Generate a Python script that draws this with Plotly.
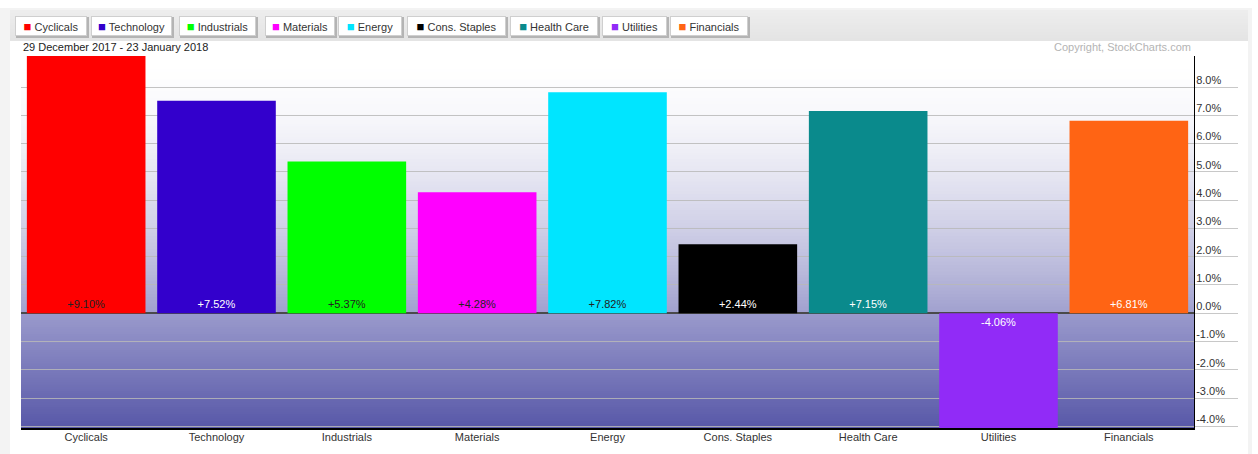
import plotly.graph_objects as go

# ---- data ----
categories = ["Cyclicals", "Technology", "Industrials", "Materials", "Energy",
              "Cons. Staples", "Health Care", "Utilities", "Financials"]
values = [9.10, 7.52, 5.37, 4.28, 7.82, 2.44, 7.15, -4.06, 6.81]
bar_colors = ["#ff0000", "#3300cc", "#00ff00", "#ff00ff", "#00e5ff",
              "#000000", "#0a8a8c", "#912bf7", "#ff6414"]
label_colors = ["#222222", "#ffffff", "#222222", "#222222", "#222222",
                "#ffffff", "#ffffff", "#ffffff", "#ffffff"]
y_ticks = [-4, -3, -2, -1, 0, 1, 2, 3, 4, 5, 6, 7, 8]
y_tick_text = [f"{v:.1f}%" for v in y_ticks]
date_text = "29 December 2017 - 23 January 2018"
copyright_text = "Copyright, StockCharts.com"

# ---- layout geometry (pixels) ----
FW, FH = 1258, 454
L, R, T, B = 21, 1194, 56, 428
W, H = R - L, B - T
FONT = "Liberation Sans, Arial, sans-serif"


def px_x(px):
    return (px - L) / W


def px_y(py):
    return (B - py) / H


ymin, ymax = min(values), max(values)

fig = go.Figure()
fig.add_trace(go.Bar(
    x=categories, y=values,
    marker=dict(color=bar_colors, line=dict(width=0)),
    text=[f"{v:+.2f}%" for v in values],
    textposition="inside", insidetextanchor="start",
    textfont=dict(color=label_colors, size=11, family=FONT),
    textangle=0, cliponaxis=False, hoverinfo="skip",
))

shapes = []
# outer frame
shapes.append(dict(type="rect", xref="paper", yref="paper", layer="below",
                   x0=px_x(0), x1=px_x(1252), y0=px_y(FH), y1=px_y(8),
                   fillcolor="#f3f3f3", line=dict(width=0)))
shapes.append(dict(type="rect", xref="paper", yref="paper", layer="below",
                   x0=px_x(10), x1=px_x(1248), y0=px_y(FH), y1=px_y(10),
                   fillcolor="#ffffff", line=dict(width=0)))
# top band gradient (overlapping bands, no seams)
nb = 10
for i in range(nb):
    y0p = 10 + (41 - 10) * i / nb
    g = int(round(237 - 9 * i / (nb - 1)))
    shapes.append(dict(type="rect", xref="paper", yref="paper", layer="below",
                       x0=px_x(10), x1=px_x(1248), y0=px_y(41), y1=px_y(y0p),
                       fillcolor=f"rgb({g},{g},{g})", line=dict(width=0)))

# plot background gradients: overlapping bands, each reaching the zero line
npos = 80
top_c = (255, 255, 255)
zero_c = (160, 160, 206)
for i in range(npos):
    a = ymax * (1 - i / npos)
    t = (i + 0.5) / npos
    f = t ** 1.7
    c = [int(round(top_c[k] + (zero_c[k] - top_c[k]) * f)) for k in range(3)]
    shapes.append(dict(type="rect", xref="paper", yref="y", layer="below",
                       x0=0, x1=1, y0=0, y1=a,
                       fillcolor=f"rgb({c[0]},{c[1]},{c[2]})", line=dict(width=0)))
nneg = 50
neg_top = (154, 154, 204)
neg_bot = (88, 88, 168)
for i in range(nneg):
    a = ymin * i / nneg
    t = (i + 0.5) / nneg
    c = [int(round(neg_top[k] + (neg_bot[k] - neg_top[k]) * t)) for k in range(3)]
    shapes.append(dict(type="rect", xref="paper", yref="y", layer="below",
                       x0=0, x1=1, y0=ymin, y1=a,
                       fillcolor=f"rgb({c[0]},{c[1]},{c[2]})", line=dict(width=0)))

# legend buttons
legend_boxes = [(15, 87), (91, 172), (179, 256), (265, 335), (338, 402),
                (407, 506), (510, 598), (602, 667), (670, 748)]
annotations = []
by0, by1 = 16, 36
for (x0p, x1p), name, col in zip(legend_boxes, categories, bar_colors):
    shapes.append(dict(type="rect", xref="paper", yref="paper", layer="below",
                       x0=px_x(x0p + 1), x1=px_x(x1p + 2), y0=px_y(by1 + 2), y1=px_y(by0 + 1),
                       fillcolor="#b4b4b4", line=dict(width=0)))
    annotations.append(dict(
        xref="paper", yref="paper", x=px_x(x0p), y=px_y((by0 + by1) / 2),
        xanchor="left", yanchor="middle", showarrow=False,
        text=f'<span style="color:{col};font-size:13px">■</span> {name}',
        font=dict(family=FONT, size=11, color="#333333"),
        bgcolor="#ffffff", bordercolor="#cfcfcf", borderwidth=1, borderpad=2,
        width=x1p - x0p - 6, height=14, align="center",
    ))

annotations.append(dict(xref="paper", yref="paper", x=px_x(21), y=px_y(47),
                        xanchor="left", yanchor="middle", showarrow=False,
                        text=date_text, font=dict(family=FONT, size=11, color="#222222")))
annotations.append(dict(xref="paper", yref="paper", x=px_x(1193), y=px_y(47),
                        xanchor="right", yanchor="middle", showarrow=False,
                        text=copyright_text, font=dict(family=FONT, size=11, color="#b4b4b4")))

fig.update_layout(
    width=FW, height=FH,
    margin=dict(l=L, r=FW - R, t=T, b=FH - B, pad=0, autoexpand=False),
    paper_bgcolor="#ffffff", plot_bgcolor="#ffffff",
    showlegend=False, bargap=0.09,
    shapes=shapes, annotations=annotations,
    font=dict(family=FONT, size=11, color="#333333"),
)
fig.update_xaxes(
    type="category", showgrid=False, showline=True, linecolor="#000000", linewidth=2,
    ticks="", tickfont=dict(family=FONT, size=11, color="#333333"), fixedrange=True,
    automargin=False, ticklabelstandoff=-2,
)
fig.update_yaxes(
    side="right", range=[ymin, ymax], tickvals=y_ticks, ticktext=y_tick_text,
    showgrid=True, gridcolor="rgba(185,185,185,0.85)", gridwidth=1,
    zeroline=True, zerolinecolor="#4a4a4a", zerolinewidth=2,
    showline=True, linecolor="#000000", linewidth=1,
    ticks="outside", ticklen=43, tickcolor="#c8c8c8", tickwidth=1,
    ticklabelstandoff=-44, ticklabelshift=-7,
    tickfont=dict(family=FONT, size=11, color="#333333"), fixedrange=True,
    automargin=False,
)

fig.write_html("out.html", config={"displayModeBar": False},
               post_script="document.body.style.margin='0';document.body.style.padding='0';")
